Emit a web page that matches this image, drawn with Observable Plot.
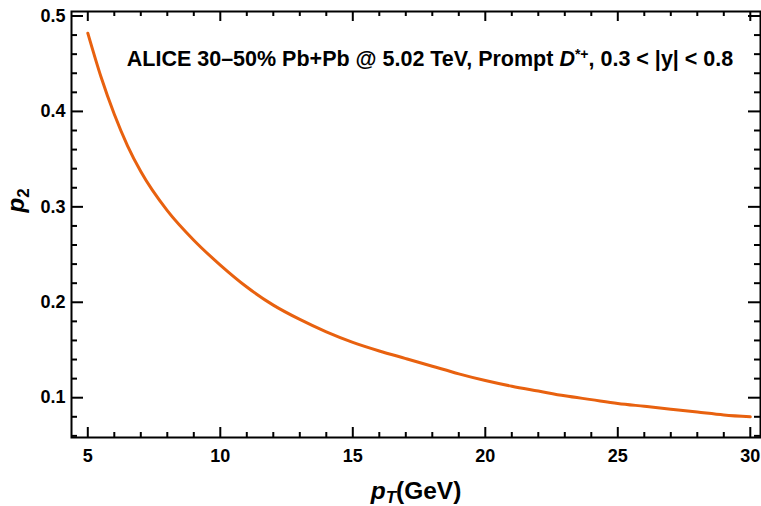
<!DOCTYPE html>
<html>
<head>
<meta charset="utf-8">
<script src="https://cdn.jsdelivr.net/npm/d3@7"></script>
<script src="https://cdn.jsdelivr.net/npm/@observablehq/plot@0.6"></script>
<style>
  html, body { margin: 0; padding: 0; background: #fff; }
  #chart svg { display: block; }
</style>
</head>
<body>
<div id="chart"></div>
<script>
// ---- data ----
const pT = [5, 5.5, 6, 6.5, 7, 8, 9, 10, 11, 12, 13, 14, 15, 16, 17, 18, 19, 20, 21, 22, 23, 24, 25, 26, 27, 28, 29, 30];
const p2 = [0.482, 0.436, 0.397, 0.364, 0.337, 0.296, 0.265, 0.239, 0.216, 0.197, 0.182, 0.169, 0.158, 0.149, 0.141, 0.133, 0.125, 0.118, 0.112, 0.107, 0.102, 0.098, 0.094, 0.091, 0.088, 0.085, 0.082, 0.080];

const xMajor = [5, 10, 15, 20, 25, 30];
const xMinor = [6, 7, 8, 9, 11, 12, 13, 14, 16, 17, 18, 19, 21, 22, 23, 24, 26, 27, 28, 29];
const yMajor = [0.1, 0.2, 0.3, 0.4, 0.5];
const yMinor = [0.06, 0.08, 0.12, 0.14, 0.16, 0.18, 0.22, 0.24, 0.26, 0.28, 0.32, 0.34, 0.36, 0.38, 0.42, 0.44, 0.46, 0.48];

const titleText = "ALICE 30–50% Pb+Pb @ 5.02 TeV, Prompt D*+, 0.3 < |y| < 0.8";
const xLabelText = "pT(GeV)";
const yLabelText = "p2";

const data = pT.map((x, i) => ({x, y: p2[i]}));

// ---- layout ----
const W = 761, H = 506;
const mL = 71, mR = 1, mT = 11, mB = 69;
const fw = W - mL - mR, fh = H - mT - mB;
const xDom = [4.385, 30.385], yDom = [0.0583, 0.5047];
const xPerPx = (xDom[1] - xDom[0]) / fw, yPerPx = (yDom[1] - yDom[0]) / fh;
const font = "'Liberation Sans', Arial, Helvetica, sans-serif";

// inward frame ticks (length in px converted to data units, drawn through the scales)
const ticksBottom = (arr, len) => Plot.ruleX(arr, {x: d => d, y1: yDom[0], y2: yDom[0] + len * yPerPx, stroke: "#000", strokeWidth: 2});
const ticksTop = (arr, len) => Plot.ruleX(arr, {x: d => d, y1: yDom[1], y2: yDom[1] - len * yPerPx, stroke: "#000", strokeWidth: 2});
const ticksLeft = (arr, len) => Plot.ruleY(arr, {y: d => d, x1: xDom[0], x2: xDom[0] + len * xPerPx, stroke: "#000", strokeWidth: 2});
const ticksRight = (arr, len) => Plot.ruleY(arr, {y: d => d, x1: xDom[1], x2: xDom[1] - len * xPerPx, stroke: "#000", strokeWidth: 2});

const chart = Plot.plot({
  width: W, height: H, marginLeft: mL, marginRight: mR, marginTop: mT, marginBottom: mB,
  x: {domain: xDom},
  y: {domain: yDom},
  style: {fontFamily: font, fontWeight: "bold", background: "#fff", color: "#000", overflow: "visible"},
  marks: [
    Plot.line(data, {x: "x", y: "y", stroke: "#e8610f", strokeWidth: 3, curve: "monotone-x"}),
    ticksBottom(xMajor, 10),
    ticksBottom(xMinor, 5),
    ticksTop(xMajor, 10),
    ticksTop(xMinor, 5),
    ticksLeft(yMajor, 12),
    ticksLeft(yMinor, 6),
    ticksRight(yMajor, 12),
    ticksRight(yMinor, 6),
    Plot.frame({stroke: "#000", strokeWidth: 2}),
    Plot.axisX({ticks: xMajor, tickSize: 0, tickPadding: 12, tickFormat: d => String(d), fontSize: 18, fontWeight: "bold", label: null}),
    Plot.axisY({ticks: yMajor, tickSize: 0, tickPadding: 6, tickFormat: d3.format(".1f"), fontSize: 18, fontWeight: "bold", label: null}),
    Plot.text([titleText], {text: d => d, frameAnchor: "top", dx: 14, dy: 39, lineAnchor: "top", fontSize: 21.5, fontWeight: "bold"}),
    Plot.text([xLabelText], {text: d => d, frameAnchor: "bottom", dy: 44, lineAnchor: "top", fontSize: 24.5, fontWeight: "bold"}),
    Plot.text([yLabelText], {text: d => d, frameAnchor: "left", dx: -55, dy: -12, rotate: -90, lineAnchor: "middle", fontSize: 24, fontWeight: "bold"})
  ]
});

// ---- rich text (italics / sub- and superscripts) ----
const NS = "http://www.w3.org/2000/svg";
function span(parent, txt, attrs = {}) {
  const t = document.createElementNS(NS, "tspan");
  for (const k in attrs) t.setAttribute(k, attrs[k]);
  t.textContent = txt;
  parent.appendChild(t);
  return t;
}
for (const t of chart.querySelectorAll("text")) {
  const s = t.textContent;
  if (s === titleText) {
    t.textContent = "";
    span(t, "ALICE 30–50% Pb+Pb @ 5.02 TeV, Prompt ");
    span(t, "D", {"font-style": "italic"});
    span(t, "*+", {"font-size": "14", dy: "-7"});
    span(t, ", 0.3 < |y| < 0.8", {dy: "7"});
  } else if (s === xLabelText) {
    t.textContent = "";
    span(t, "p", {"font-style": "italic"});
    span(t, "T", {"font-style": "italic", "font-size": "17", dy: "4"});
    span(t, "(GeV)", {dy: "-4"});
  } else if (s === yLabelText) {
    t.textContent = "";
    span(t, "p", {"font-style": "italic"});
    span(t, "2", {"font-size": "17", dy: "5"});
  }
}
document.getElementById("chart").appendChild(chart);
</script>
</body>
</html>
